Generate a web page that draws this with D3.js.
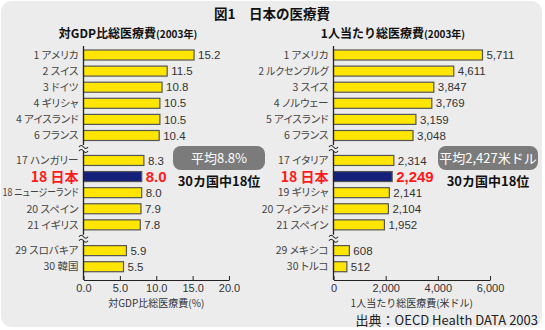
<!DOCTYPE html>
<html>
<head>
<meta charset="utf-8">
<script src="https://cdn.jsdelivr.net/npm/d3@7"></script>
<style>
  body { margin: 0; background: #fff; }
  svg { display: block; font-family: "Noto Sans CJK JP", "Noto Sans", sans-serif; }
  .cat { font-feature-settings: "palt"; }
</style>
</head>
<body>
<svg width="545" height="330"></svg>
<script>
"use strict";

// ranks / countries and values
const gdpNames = ["1 アメリカ", "2 スイス", "3 ドイツ", "4 ギリシャ", "4 アイスランド", "6 フランス",
    "17 ハンガリー", "18 日本", "18 ニュージーランド", "20 スペイン", "21 イギリス", "29 スロバキア", "30 韓国"];
const gdpValues = [15.2, 11.5, 10.8, 10.5, 10.5, 10.4, 8.3, 8.0, 8.0, 7.9, 7.8, 5.9, 5.5];
const gdpTicks = [0, 5, 10, 15, 20];

const pcNames = ["1 アメリカ", "2 ルクセンブルグ", "3 スイス", "4 ノルウェー", "5 アイスランド", "6 フランス",
    "17 イタリア", "18 日本", "19 ギリシャ", "20 フィンランド", "21 スペイン", "29 メキシコ", "30 トルコ"];
const pcValues = [5711, 4611, 3847, 3769, 3159, 3048, 2314, 2249, 2141, 2104, 1952, 608, 512];
const pcTicks = [0, 2000, 4000, 6000];

// which block (separated by axis breaks) each row is in
const rowGroups = [0, 0, 0, 0, 0, 0, 1, 1, 1, 1, 1, 2, 2];
const groupGap = [0, 0.55, 1.15];
const japanIndex = 7;

const svg = d3.select("svg");

svg.append("rect")
    .attr("x", 1).attr("y", 1)
    .attr("width", 541).attr("height", 326)
    .attr("rx", 11)
    .attr("fill", "#ececec");

svg.append("text")
    .attr("x", 272).attr("y", 19)
    .attr("text-anchor", "middle")
    .attr("font-size", 13.5).attr("font-weight", "bold")
    .attr("fill", "#111")
    .text("図1　日本の医療費");

const slot = (i) => i + groupGap[rowGroups[i]];
const y = d3.scaleLinear().domain([0, 13.15]).range([55, 55 + 16.1 * 13.15]);
const barH = 10;
const axisBottom = 280;

function drawPanel(opts) {
    const g = svg.append("g");
    const x = d3.scaleLinear().domain([0, opts.max]).range([opts.x0, opts.x1]);

    // subtitle
    const st = g.append("text")
        .attr("x", opts.titleX).attr("y", 38)
        .attr("text-anchor", "middle")
        .attr("fill", "#111");
    st.append("tspan").attr("font-size", 12).attr("font-weight", "bold").text(opts.title);
    st.append("tspan").attr("font-size", 10).attr("font-weight", "bold").text("(2003年)");

    const rows = opts.names.map((n, i) => ({ name: n, value: opts.values[i], i: i }));

    // bars
    g.selectAll(".bar")
        .data(rows)
        .enter().append("rect")
        .attr("class", "bar")
        .attr("x", x(0))
        .attr("y", (d) => y(slot(d.i)) - barH / 2)
        .attr("width", (d) => x(d.value) - x(0))
        .attr("height", barH)
        .attr("fill", (d) => d.i === japanIndex ? "#14207a" : "#ffe500")
        .attr("stroke", "#555")
        .attr("stroke-width", 1.2);

    // category labels
    g.selectAll(".cat")
        .data(rows)
        .enter().append("text")
        .attr("class", "cat")
        .attr("x", x(0) - 5)
        .attr("y", (d) => y(slot(d.i)))
        .attr("dy", "0.36em")
        .attr("text-anchor", "end")
        .attr("font-size", (d) => d.i === japanIndex ? 14 : 10.5)
        .attr("font-weight", (d) => d.i === japanIndex ? "bold" : "normal")
        .attr("fill", (d) => d.i === japanIndex ? "#ff1a1a" : "#444")
        .text((d) => d.name)
        .each(function () {
            // squeeze names that would run past the panel's left edge
            const w = this.getComputedTextLength();
            if (w > opts.labelMax) {
                d3.select(this).attr("textLength", opts.labelMax)
                    .attr("lengthAdjust", "spacingAndGlyphs");
            }
        });

    // value labels
    g.selectAll(".val")
        .data(rows)
        .enter().append("text")
        .attr("class", "val")
        .attr("x", (d) => x(d.value) + 4)
        .attr("y", (d) => y(slot(d.i)))
        .attr("dy", "0.36em")
        .attr("font-family", "Liberation Sans, Arial, sans-serif")
        .attr("font-size", (d) => d.i === japanIndex ? 15 : 11.5)
        .attr("font-weight", (d) => d.i === japanIndex ? "bold" : "normal")
        .attr("fill", (d) => d.i === japanIndex ? "#ff1a1a" : "#333")
        .text((d) => opts.fmt(d.value));

    // x axis
    const ax = g.append("g")
        .attr("transform", "translate(0," + axisBottom + ")")
        .call(d3.axisBottom(x).tickValues(opts.ticks).tickFormat(opts.tickFmt)
            .tickSizeInner(-4).tickSizeOuter(0).tickPadding(4));
    ax.select(".domain").attr("stroke", "#222");
    ax.selectAll(".tick line").attr("stroke", "#222");
    ax.selectAll(".tick text")
        .attr("font-family", "Liberation Sans, Arial, sans-serif")
        .attr("font-size", 11).attr("fill", "#333");

    g.append("text")
        .attr("x", x(opts.max / 2)).attr("y", 307)
        .attr("text-anchor", "middle")
        .attr("font-size", 10).attr("fill", "#333")
        .text(opts.axisTitle);

    // y axis line with two breaks
    const breaks = [(y(slot(5)) + y(slot(6))) / 2, (y(slot(10)) + y(slot(11))) / 2];
    const ax0 = x(0);
    const segs = [[46, breaks[0] - 3], [breaks[0] + 3, breaks[1] - 3], [breaks[1] + 3, axisBottom]];
    g.selectAll(".yseg")
        .data(segs)
        .enter().append("line")
        .attr("x1", ax0).attr("x2", ax0)
        .attr("y1", (d) => d[0]).attr("y2", (d) => d[1])
        .attr("stroke", "#222").attr("stroke-width", 1.3);
    const wave = (cx, cy) => "M" + (cx - 4.5) + "," + (cy + 1) +
        " q2.2,-3 4.5,0 t4.5,0";
    breaks.forEach((b) => {
        [-2, 2].forEach((o) => {
            g.append("path")
                .attr("d", wave(ax0, b + o))
                .attr("fill", "none")
                .attr("stroke", "#222")
                .attr("stroke-width", 1.1);
        });
    });

    // average box
    g.append("rect")
        .attr("x", opts.box[0]).attr("y", 146)
        .attr("width", opts.box[1]).attr("height", 24)
        .attr("rx", 8)
        .attr("fill", "#7b7b7b");
    g.append("text")
        .attr("x", opts.box[0] + opts.box[1] / 2).attr("y", 158)
        .attr("dy", "0.36em")
        .attr("text-anchor", "middle")
        .attr("font-size", 13).attr("fill", "#fff")
        .text(opts.avgText);
    g.append("text")
        .attr("x", opts.box[0] + opts.box[1] / 2).attr("y", 181)
        .attr("dy", "0.36em")
        .attr("text-anchor", "middle")
        .attr("font-size", 13).attr("font-weight", "bold").attr("fill", "#111")
        .text("30カ国中18位");
}

drawPanel({
    names: gdpNames, values: gdpValues, ticks: gdpTicks,
    max: 20, x0: 83.5, x1: 229, labelMax: 76,
    fmt: d3.format(".1f"), tickFmt: d3.format(".1f"),
    title: "対GDP比総医療費", titleX: 128,
    axisTitle: "対GDP比総医療費(%)",
    box: [173, 92], avgText: "平均8.8%"
});

drawPanel({
    names: pcNames, values: pcValues, ticks: pcTicks,
    max: 6000, x0: 333.5, x1: 490, labelMax: 70,
    fmt: d3.format(","), tickFmt: d3.format(","),
    title: "1人当たり総医療費", titleX: 393,
    axisTitle: "1人当たり総医療費(米ドル)",
    box: [438, 100], avgText: "平均2,427米ドル"
});

svg.append("text")
    .attr("x", 538).attr("y", 325)
    .attr("text-anchor", "end")
    .attr("font-size", 13).attr("fill", "#222")
    .text("出典：OECD Health DATA 2003");
</script>
</body>
</html>
